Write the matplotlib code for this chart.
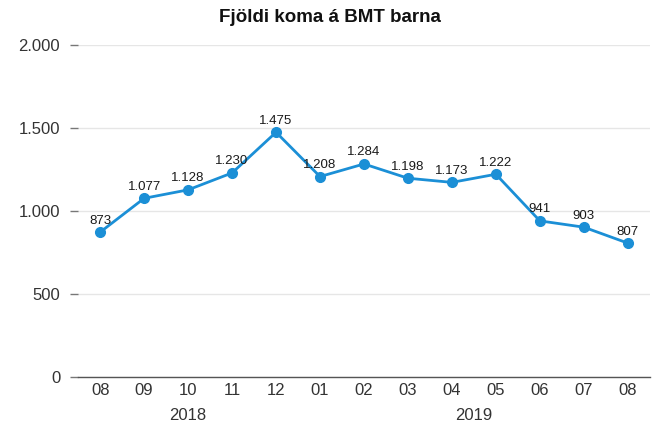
import matplotlib
matplotlib.use("Agg")
import matplotlib.pyplot as plt
import matplotlib.ticker as mticker

# ---------------------------------------------------------------------------
# Data
# ---------------------------------------------------------------------------
MONTHS = ["08", "09", "10", "11", "12", "01", "02", "03", "04", "05", "06", "07", "08"]
VISITS = [873, 1077, 1128, 1230, 1475, 1208, 1284, 1198, 1173, 1222, 941, 903, 807]
YEARS = ["2018", "2019"]
YEAR_SPANS = [(0, 4), (5, 12)]  # first/last month index for each year
Y_TICKS = [0, 500, 1000, 1500, 2000]

TITLE = "Fjöldi koma á BMT barna"
LINE_COLOR = "#1b8fd6"

plt.rcParams["font.family"] = ["Liberation Sans", "DejaVu Sans"]


def dotted_thousands(v, _pos=None):
    return f"{int(v):,}".replace(",", ".")


fig = plt.figure(figsize=(6.57, 4.26), dpi=100)
ax = fig.add_axes([0.119, 0.115, 0.870, 0.779])

x = list(range(len(MONTHS)))
ax.plot(x, VISITS, color=LINE_COLOR, linewidth=2, marker="o",
        markersize=7, zorder=3)

for xi, v in zip(x, VISITS):
    ax.annotate(dotted_thousands(v), (xi, v), xytext=(0, 4),
                textcoords="offset points", ha="center", va="bottom",
                fontsize=9.5, color="#1a1a1a", zorder=4)

ax.set_xlim(-0.5, len(MONTHS) - 0.5)
ax.set_ylim(0, 2000)
ax.set_yticks(Y_TICKS)
ax.yaxis.set_major_formatter(mticker.FuncFormatter(dotted_thousands))
ax.set_xticks(x)
ax.set_xticklabels(MONTHS)

ax.grid(axis="y", color="#e6e6e6", linewidth=1)
ax.set_axisbelow(True)
for side in ("top", "right", "left"):
    ax.spines[side].set_visible(False)
ax.spines["bottom"].set_color("#555555")
ax.spines["bottom"].set_linewidth(1)

ax.tick_params(axis="y", length=6, width=1, color="#777777", pad=7,
               labelsize=12, labelcolor="#333333")
ax.tick_params(axis="x", length=0, pad=4, labelsize=12,
               labelcolor="#333333")

# year labels under month groups
for label, (a, b) in zip(YEARS, YEAR_SPANS):
    ax.annotate(label, ((a + b) / 2, 0), xycoords=("data", "axes fraction"),
                xytext=(0, -27.5), textcoords="offset points",
                ha="center", va="center", fontsize=12, color="#333333")

fig.text(0.502, 0.96, TITLE, ha="center", va="center",
         fontsize=13.5, fontweight="bold", color="#111111")

fig.savefig("out.png", dpi=100)
